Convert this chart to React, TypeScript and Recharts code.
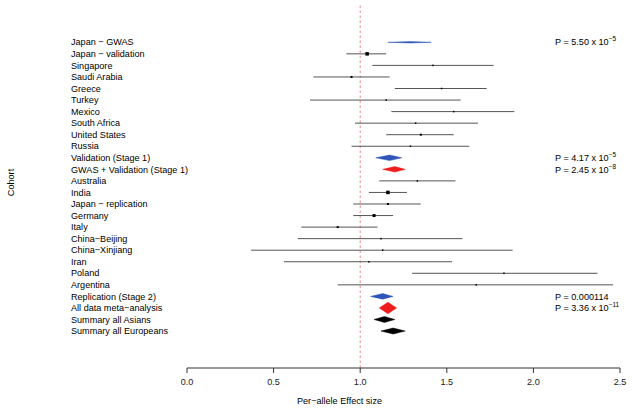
import React from "react";
import {
  ScatterChart,
  Scatter,
  XAxis,
  YAxis,
  ErrorBar,
  ReferenceLine,
} from "recharts";

const cohorts = [
  "Japan − GWAS",
  "Japan − validation",
  "Singapore",
  "Saudi Arabia",
  "Greece",
  "Turkey",
  "Mexico",
  "South Africa",
  "United States",
  "Russia",
  "Validation (Stage 1)",
  "GWAS + Validation (Stage 1)",
  "Australia",
  "India",
  "Japan − replication",
  "Germany",
  "Italy",
  "China−Beijing",
  "China−Xinjiang",
  "Iran",
  "Poland",
  "Argentina",
  "Replication (Stage 2)",
  "All data meta−analysis",
  "Summary all Asians",
  "Summary all Europeans",
];

// effect size, lower and upper 95% CI
const estimates = [1.29, 1.04, 1.42, 0.95, 1.47, 1.15, 1.54, 1.32, 1.35, 1.29, 1.17, 1.2, 1.33, 1.16, 1.16, 1.08, 0.87, 1.12, 1.13, 1.05, 1.83, 1.67, 1.13, 1.16, 1.14, 1.19];
const lower = [1.16, 0.92, 1.07, 0.73, 1.2, 0.71, 1.18, 0.97, 1.15, 0.95, 1.09, 1.13, 1.11, 1.05, 0.96, 0.96, 0.66, 0.64, 0.37, 0.56, 1.3, 0.87, 1.06, 1.11, 1.08, 1.12];
const upper = [1.41, 1.15, 1.77, 1.17, 1.73, 1.58, 1.89, 1.68, 1.54, 1.63, 1.24, 1.26, 1.55, 1.27, 1.35, 1.19, 1.1, 1.59, 1.88, 1.53, 2.37, 2.46, 1.19, 1.21, 1.2, 1.26];

// "study" rows get a box + CI line, the others a diamond
const rowTypes = [
  "gwas", "study", "study", "study", "study", "study", "study", "study", "study", "study",
  "stage", "combined", "study", "study", "study", "study", "study", "study", "study", "study",
  "study", "study", "stage", "combined", "summary", "summary",
];

const pMantissa: (string | null)[] = [
  "P = 5.50 x 10", null, null, null, null, null, null, null, null, null,
  "P = 4.17 x 10", "P = 2.45 x 10", null, null, null, null, null, null, null, null,
  null, null, "P = 0.000114", "P = 3.36 x 10", null, null,
];
const pExponent: (string | null)[] = [
  "−5", null, null, null, null, null, null, null, null, null,
  "−5", "−8", null, null, null, null, null, null, null, null,
  null, null, null, "−11", null, null,
];

const xTicks = [0, 0.5, 1, 1.5, 2, 2.5];

// marker styling
const boxSize = [0, 3.5, 1.5, 2, 1.5, 1.5, 1.5, 1.5, 2, 1.5, 0, 0, 1.5, 3.5, 2, 3, 2, 1.5, 1.5, 1.5, 1.5, 1.5, 0, 0, 0, 0];
const diamondHalf = [0.06, 0, 0, 0, 0, 0, 0, 0, 0, 0, 0.24, 0.24, 0, 0, 0, 0, 0, 0, 0, 0, 0, 0, 0.24, 0.5, 0.26, 0.26];
const COLORS: Record<string, string> = {
  gwas: "#2f55b8",
  stage: "#2f55b8",
  combined: "#ee1c1c",
  summary: "#000000",
};

const rows = cohorts.map((_, i) => i + 1);

const studyData = cohorts
  .map((name, i) => ({
    name,
    x: estimates[i],
    y: i + 1,
    err: [estimates[i] - lower[i], upper[i] - estimates[i]],
    size: boxSize[i],
    type: rowTypes[i],
  }))
  .filter((d) => d.type === "study");

const diamonds = cohorts
  .map((name, i) => ({
    name,
    color: COLORS[rowTypes[i]],
    points: [
      { x: lower[i], y: i + 1 },
      { x: estimates[i], y: i + 1 - diamondHalf[i] },
      { x: upper[i], y: i + 1 },
      { x: estimates[i], y: i + 1 + diamondHalf[i] },
    ],
    type: rowTypes[i],
  }))
  .filter((d) => d.type !== "study");

const font = '"Liberation Sans", Arial, sans-serif';

function Box(props: any) {
  const s = props.payload.size;
  return <rect x={props.cx - s / 2} y={props.cy - s / 2} width={s} height={s} fill="#000" />;
}

function RowTick(props: any) {
  const { x, y, index } = props;
  const mant = pMantissa[index];
  const exp = pExponent[index];
  return (
    <g>
      <text x={x - 116} y={y} dy="0.35em" fontSize={9.1} fill="#000" textAnchor="start">
        {cohorts[index]}
      </text>
      {mant && (
        <text x={x + 368} y={y} dy="0.35em" fontSize={9.1} fill="#000" textAnchor="start">
          {mant}
          {exp && (
            <tspan dy={-4} fontSize={6.5}>
              {exp}
            </tspan>
          )}
        </text>
      )}
    </g>
  );
}

function CohortLabel(props: any) {
  const { viewBox } = props;
  const cx = viewBox.x + 11;
  const cy = viewBox.y + viewBox.height / 2 - 4;
  return (
    <text x={cx} y={cy} transform={`rotate(-90 ${cx} ${cy})`} textAnchor="middle" dy="0.35em" fontSize={9.1} fill="#000">
      Cohort
    </text>
  );
}

export default function App() {
  return (
    <div style={{ position: "absolute", left: 0, top: 0, fontFamily: font, background: "#fff" }}>
      <ScatterChart width={632} height={417} margin={{ top: 5, right: 12, bottom: 0, left: 0 }}>
        <XAxis
          type="number"
          dataKey="x"
          domain={[0, 2.5]}
          ticks={xTicks}
          allowDataOverflow
          tickFormatter={(v: number) => v.toFixed(1)}
          stroke="#333"
          tickSize={5}
          tickMargin={6}
          height={49}
          tick={{ fill: "#222", fontSize: 9.1 }}
          label={{ value: "Per−allele Effect size", position: "insideBottom", offset: 13, dx: -64, fill: "#000", fontSize: 9.1 }}
        />
        <YAxis
          type="number"
          dataKey="y"
          reversed
          domain={[-2.23, 29.2]}
          allowDataOverflow
          ticks={rows}
          interval={0}
          width={187}
          axisLine={false}
          tickLine={false}
          tickSize={0}
          tickMargin={0}
          tick={<RowTick />}
          label={<CohortLabel />}
        />
        <ReferenceLine x={1} stroke="#e8868c" strokeDasharray="2.5 2.5" />
        <Scatter data={studyData} shape={<Box />} isAnimationActive={false}>
          <ErrorBar dataKey="err" direction="x" width={0} stroke="#555" strokeWidth={1} />
        </Scatter>
        {diamonds.map((d) => (
          <Scatter
            key={d.name}
            data={d.points}
            isAnimationActive={false}
            shape={() => <g />}
            line={(p: any) => (
              <polygon
                points={p.points.map((pt: any) => `${pt.x},${pt.y}`).join(" ")}
                fill={d.color}
                stroke={d.color}
                strokeWidth={0.5}
              />
            )}
          />
        ))}
      </ScatterChart>
    </div>
  );
}
